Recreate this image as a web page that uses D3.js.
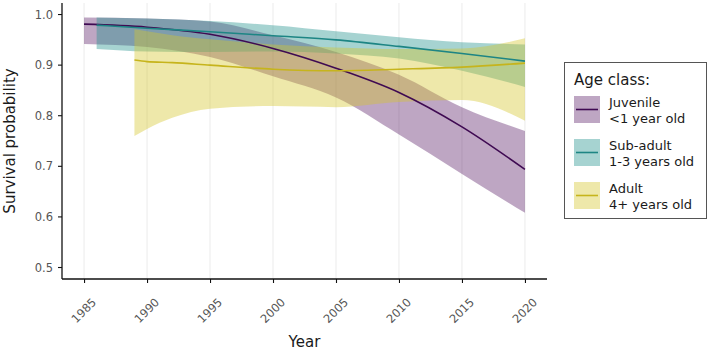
<!DOCTYPE html>
<html lang="en">
<head>
<meta charset="utf-8">
<title>Survival probability by age class</title>
<script src="https://d3js.org/d3.v7.min.js"></script>
<style>
    body { margin: 0; background: #fff; }
    #chart text { font-family: "DejaVu Sans", "Open Sans", sans-serif; }
    .tick-label { fill: #555; font-size: 11.5px; }
    .x-label { fill: #555; font-size: 11.5px; }
    .axis-title { fill: #1a1a1a; font-size: 15px; }
    .legend-text { fill: #1a1a1a; font-size: 13px; }
</style>
</head>
<body>
<div id="chart"></div>
<script>
    "use strict"

    // juvenile (<1 year old)
    var juvYears = [1985, 1990, 1995, 2000, 2005, 2010, 2015, 2020];
    var juvFit   = [0.980, 0.974, 0.960, 0.932, 0.893, 0.845, 0.777, 0.693];
    var juvHigh  = [0.993, 0.991, 0.985, 0.958, 0.925, 0.880, 0.816, 0.769];
    var juvLow   = [0.941, 0.935, 0.915, 0.877, 0.835, 0.762, 0.684, 0.607];

    // sub-adult (1-3 years old)
    var subYears = [1986, 1990, 1995, 2000, 2005, 2010, 2015, 2020];
    var subFit   = [0.978, 0.972, 0.965, 0.957, 0.949, 0.936, 0.922, 0.907];
    var subHigh  = [0.993, 0.991, 0.986, 0.978, 0.966, 0.954, 0.944, 0.940];
    var subLow   = [0.931, 0.926, 0.925, 0.926, 0.922, 0.912, 0.888, 0.856];

    // adult (4+ years old)
    var adultYears = [1989, 1990, 1992, 1995, 2000, 2005, 2010, 2015, 2020];
    var adultFit   = [0.909, 0.906, 0.904, 0.899, 0.891, 0.888, 0.891, 0.895, 0.903];
    var adultHigh  = [0.970, 0.966, 0.958, 0.950, 0.940, 0.934, 0.931, 0.932, 0.952];
    var adultLow   = [0.759, 0.773, 0.795, 0.813, 0.818, 0.816, 0.826, 0.830, 0.789];

    var xTicks = [1985, 1990, 1995, 2000, 2005, 2010, 2015, 2020];
    var yTicks = [0.5, 0.6, 0.7, 0.8, 0.9, 1.0];

    var classNames = ["Juvenile", "Sub-adult", "Adult"];
    var classSubs = ["<1 year old", "1-3 years old", "4+ years old"];

    function rows(years, fit, low, high) {
        return years.map((y, i) => ({ year: y, fit: fit[i], low: low[i], high: high[i] }));
    }

    var series = [
        { name: classNames[0], sub: classSubs[0], line: "#3f0a52", fill: "#440154", rows: rows(juvYears, juvFit, juvLow, juvHigh) },
        { name: classNames[1], sub: classSubs[1], line: "#1d8584", fill: "#21908c", rows: rows(subYears, subFit, subLow, subHigh) },
        { name: classNames[2], sub: classSubs[2], line: "#c6b41c", fill: "#d4c52b", rows: rows(adultYears, adultFit, adultLow, adultHigh) }
    ];
    var fillOpacity = [0.35, 0.4, 0.4];

    var width = 709, height = 351;
    var plot = { left: 62, right: 547, top: 3, bottom: 279 };

    var svg = d3.select("#chart")
        .append("svg")
        .attr("width", width)
        .attr("height", height);

    var x = d3.scaleLinear()
        .domain([1983.25, 2021.75])
        .range([plot.left, plot.right]);

    var y = d3.scaleLinear()
        .domain([0.4763, 1.0218])
        .range([plot.bottom, plot.top]);

    // vertical grid
    svg.append("g")
        .selectAll("line")
        .data(xTicks)
        .enter()
        .append("line")
        .attr("x1", d => x(d)).attr("x2", d => x(d))
        .attr("y1", plot.top).attr("y2", plot.bottom)
        .attr("stroke", "#ebebeb")
        .attr("stroke-width", 1);

    var curve = d3.curveMonotoneX;

    var area = d3.area()
        .curve(curve)
        .x(d => x(d.year))
        .y0(d => y(d.low))
        .y1(d => y(d.high));

    var line = d3.line()
        .curve(curve)
        .x(d => x(d.year))
        .y(d => y(d.fit));

    svg.append("g")
        .selectAll("path")
        .data(series)
        .enter()
        .append("path")
        .attr("d", d => area(d.rows))
        .attr("fill", d => d.fill)
        .attr("fill-opacity", (d, i) => fillOpacity[i]);

    svg.append("g")
        .selectAll("path")
        .data(series)
        .enter()
        .append("path")
        .attr("d", d => line(d.rows))
        .attr("fill", "none")
        .attr("stroke", d => d.line)
        .attr("stroke-width", 1.6);

    // axes
    var xAxis = svg.append("g")
        .attr("transform", "translate(0," + plot.bottom + ")")
        .call(d3.axisBottom(x).tickValues(xTicks).tickSize(4).tickFormat(""));
    xAxis.select(".domain").attr("d", "M" + plot.left + ",0H" + plot.right);

    var yAxis = svg.append("g")
        .attr("transform", "translate(" + plot.left + ",0)")
        .call(d3.axisLeft(y).tickValues(yTicks).tickSize(4).tickFormat(d3.format(".1f")));
    yAxis.select(".domain").attr("d", "M0," + plot.top + "V" + plot.bottom);

    svg.selectAll(".domain").attr("stroke", "#111").attr("stroke-width", 1.3);
    svg.selectAll(".tick line").attr("stroke", "#111").attr("stroke-width", 1.1);

    yAxis.selectAll(".tick text")
        .attr("class", "tick-label")
        .attr("x", -9)
        .attr("dy", "0.35em");

    svg.append("g")
        .selectAll("text")
        .data(xTicks)
        .enter()
        .append("text")
        .attr("class", "x-label")
        .attr("text-anchor", "end")
        .attr("transform", d => "translate(" + (x(d) + 13) + "," + 303 + ") rotate(-45)")
        .text(d => d);

    svg.append("text")
        .attr("class", "axis-title")
        .attr("text-anchor", "middle")
        .attr("x", (plot.left + plot.right) / 2)
        .attr("y", 347)
        .text("Year");

    svg.append("text")
        .attr("class", "axis-title")
        .attr("text-anchor", "middle")
        .attr("transform", "translate(15," + ((plot.top + plot.bottom) / 2) + ") rotate(-90)")
        .text("Survival probability");

    // legend
    var legend = svg.append("g");
    legend.append("rect")
        .attr("x", 564.5).attr("y", 62.5)
        .attr("width", 142).attr("height", 156)
        .attr("fill", "#fff")
        .attr("stroke", "#555")
        .attr("stroke-width", 1);

    legend.append("text")
        .attr("class", "axis-title")
        .attr("x", 574).attr("y", 85)
        .text("Age class:");

    var keys = legend.selectAll("g.key")
        .data(series)
        .enter()
        .append("g")
        .attr("class", "key")
        .attr("transform", (d, i) => "translate(574," + (96 + i * 43) + ")");

    keys.append("rect")
        .attr("width", 26).attr("height", 27)
        .attr("fill", d => d.fill)
        .attr("fill-opacity", (d, i) => fillOpacity[i]);

    keys.append("line")
        .attr("x1", 2).attr("x2", 24)
        .attr("y1", 13.5).attr("y2", 13.5)
        .attr("stroke", d => d.line)
        .attr("stroke-width", 1.6);

    keys.append("text")
        .attr("class", "legend-text")
        .attr("x", 35).attr("y", 11)
        .text(d => d.name);

    keys.append("text")
        .attr("class", "legend-text")
        .attr("x", 35).attr("y", 26.5)
        .text(d => d.sub);
</script>
</body>
</html>
